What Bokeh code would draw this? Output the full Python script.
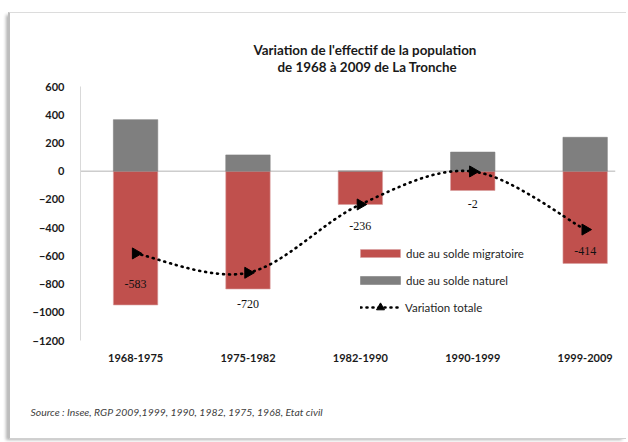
import numpy as np
from bokeh.plotting import figure
from bokeh.models import (ColumnDataSource, Range1d, FixedTicker, Span, LabelSet,
                          Legend, LegendItem, Title)
from bokeh.embed import file_html
from bokeh.resources import INLINE

# ---- data ----
periods = ["1968-1975", "1975-1982", "1982-1990", "1990-1999", "1999-2009"]
solde_naturel = [365, 115, 0, 135, 240]
solde_migratoire = [-948, -835, -236, -137, -654]
variation_totale = [-583, -720, -236, -2, -414]
total_labels = ["-583", "-720", "-236", "-2", "-414"]
y_ticks = [-1200, -1000, -800, -600, -400, -200, 0, 200, 400, 600]

# label placement (pixels below each point)
label_dy = [-31, -31, -22, -33, -21]

FONT = "Lato"
RED = "#C0504D"
GREY = "#7F7F7F"

xs = list(range(len(periods)))

p = figure(width=618, height=427, output_backend="svg", toolbar_location=None,
           x_range=Range1d(-0.49, 4.27), y_range=Range1d(-1200, 600),
           min_border_left=70, min_border_right=13, min_border_top=73, min_border_bottom=100)
p.background_fill_color = "white"
p.border_fill_color = "white"
p.outline_line_color = None
p.xgrid.visible = False
p.ygrid.visible = False
p.styles = {"margin-left": "8px", "margin-top": "12px",
            "border-left": "2px solid #bdbdbd", "border-top": "1px solid #dcdcdc",
            "border-bottom": "1px solid #d0d0d0",
            "box-shadow": "-3px 2px 3px -1px rgba(0,0,0,0.30)"}

# axes
p.yaxis.ticker = FixedTicker(ticks=y_ticks)
p.yaxis.axis_line_color = "#D9D9D9"
p.yaxis.major_tick_line_color = None
p.yaxis.minor_tick_line_color = None
p.yaxis.major_label_standoff = 10
p.yaxis.major_label_text_font = FONT
p.yaxis.major_label_text_font_style = "bold"
p.yaxis.major_label_text_font_size = "11px"
p.yaxis.major_label_text_color = "#1a1a1a"

p.xaxis.ticker = FixedTicker(ticks=xs)
p.xaxis.major_label_overrides = {i: s for i, s in enumerate(periods)}
p.xaxis.axis_line_color = None
p.xaxis.major_tick_line_color = None
p.xaxis.minor_tick_line_color = None
p.xaxis.major_label_standoff = 7
p.xaxis.major_label_text_font = FONT
p.xaxis.major_label_text_font_style = "bold"
p.xaxis.major_label_text_font_size = "11px"
p.xaxis.major_label_text_color = "#1a1a1a"
# blank axis label used only as vertical spacing above the source line
p.xaxis.axis_label = " "
p.xaxis.axis_label_standoff = 4
p.xaxis.axis_label_text_font_size = "9px"

zero = Span(location=0, dimension="width", line_color="#B4B4B4", line_width=1, level="underlay")
p.add_layout(zero)

src = ColumnDataSource(dict(x=xs, nat=solde_naturel, mig=solde_migratoire,
                            tot=variation_totale, lab=total_labels, dy=label_dy,
                            zero=[0] * len(xs)))

r_mig = p.vbar(x="x", width=0.395, top="zero", bottom="mig", source=src,
               fill_color=RED, line_color="#D9A0A0", line_width=0.6)
r_nat = p.vbar(x="x", width=0.395, top="nat", bottom="zero", source=src,
               fill_color=GREY, line_color=GREY, line_width=0.6)

# smoothed (Excel style) curve through the totals
xa = np.array(xs, dtype=float)
ya = np.array(variation_totale, dtype=float)
xp = np.concatenate([[xa[0]], xa, [xa[-1]]])
yp = np.concatenate([[ya[0]], ya, [ya[-1]]])
n = len(xa)
x0 = xa[:-1]; y0 = ya[:-1]; x1 = xa[1:]; y1 = ya[1:]
cx0 = x0 + (xp[2:n + 1] - xp[0:n - 1]) / 6.0
cy0 = y0 + (yp[2:n + 1] - yp[0:n - 1]) / 6.0
cx1 = x1 - (xp[3:n + 2] - xp[1:n]) / 6.0
cy1 = y1 - (yp[3:n + 2] - yp[1:n]) / 6.0
p.bezier(x0=x0, y0=y0, x1=x1, y1=y1, cx0=cx0, cy0=cy0, cx1=cx1, cy1=cy1,
         line_color="black", line_width=2.6, line_dash="1 5", line_cap="round")

labels = LabelSet(x="x", y="tot", text="lab", source=src, y_offset="dy",
                  text_align="center", text_baseline="middle",
                  text_font=FONT, text_font_size="12px", text_color="#111111")
p.add_layout(labels)

r_pts = p.scatter(x="x", y="tot", source=src, marker="triangle", angle=-np.pi / 2,
                  size=11, fill_color="black", line_color="black")

# line style sample for the legend (hidden in the plot, drawn by the legend)
r_leg_line = p.line(x="x", y="tot", source=src, line_color="black", line_width=2.6,
                    line_dash="1 5", line_cap="round", visible=False)

leg1 = Legend(items=[LegendItem(label="due au solde migratoire", renderers=[r_mig]),
                     LegendItem(label="due au solde naturel", renderers=[r_nat])],
              location=(275, 50), glyph_width=50, glyph_height=10, label_height=20,
              spacing=7, padding=0, margin=0, border_line_color=None,
              background_fill_alpha=0, label_standoff=1,
              label_text_font=FONT, label_text_font_size="11.5px", label_text_color="#262626")
leg2 = Legend(items=[LegendItem(label="Variation totale", renderers=[r_leg_line, r_pts])],
              location=(280, 23), glyph_width=40, glyph_height=20, label_height=20,
              padding=0, margin=0, border_line_color=None, background_fill_alpha=0,
              label_standoff=5,
              label_text_font=FONT, label_text_font_size="11.5px", label_text_color="#262626")
p.add_layout(leg1)
p.add_layout(leg2)

# title (two lines) and source
t2 = Title(text="de 1968 à 2009 de La Tronche", align="left", offset=197,
           standoff=24, text_font=FONT, text_font_style="bold",
           text_font_size="13.4px", text_color="#1a1a1a")
t1 = Title(text="Variation de l'effectif de la population", align="left", offset=173,
           standoff=-26, text_font=FONT, text_font_style="bold",
           text_font_size="13.4px", text_color="#1a1a1a")
p.add_layout(t2, "above")
p.add_layout(t1, "above")

src_title = Title(text="Source : Insee, RGP 2009,1999,  1990, 1982,  1975, 1968,  Etat civil",
                  align="left", offset=-50, standoff=44, text_font=FONT,
                  text_font_style="italic", text_font_size="10.4px", text_color="#404040")
p.add_layout(src_title, "below")

open("out.html", "w").write(file_html(p, INLINE))
